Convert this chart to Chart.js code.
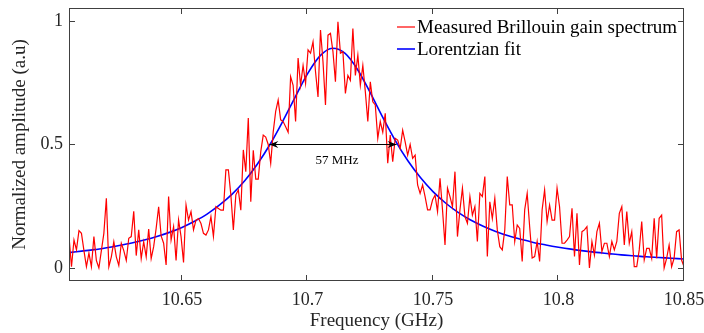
<!DOCTYPE html>
<html lang="en">
<head>
    <meta charset="UTF-8">
    <title>Brillouin gain spectrum</title>
    <style>
        html, body {
            margin: 0;
            padding: 0;
            background: #fff;
        }
        #wrap {
            width: 704px;
            height: 333px;
        }
    </style>
</head>
<body>
    <div id="wrap"><canvas id="myChart" width="704" height="333"></canvas></div>

    <script src="https://cdn.jsdelivr.net/npm/chart.js"></script>
    <script>
        // sampling grid of the measured spectrum (GHz)
        const freqStart = 10.605;
        const freqStep = 0.000992;

        // measured Brillouin gain spectrum
        const measured = [
            0.127, 0.005, 0.113, 0.073, 0.151, 0.14, 0.07, 0.005, 0.06, 0.005, 0.127, 0.03,
            0.0, 0.07, 0.14, 0.282, 0.005, 0.045, 0.106, 0.045, 0.01, 0.1, 0.07, 0.03,
            0.12, 0.127, 0.229, 0.05, 0.154, 0.038, 0.106, 0.045, 0.157, 0.038, 0.086, 0.16,
            0.248, 0.13, 0.1, 0.012, 0.289, 0.113, 0.167, 0.03, 0.194, 0.127, 0.022, 0.255,
            0.194, 0.228, 0.154, 0.194, 0.2, 0.18, 0.14, 0.133, 0.154, 0.208, 0.127, 0.248,
            0.241, 0.234, 0.234, 0.397, 0.397, 0.296, 0.154, 0.296, 0.316, 0.234, 0.478, 0.39,
            0.607, 0.268, 0.477, 0.36, 0.36, 0.47, 0.538, 0.53, 0.5, 0.424, 0.55, 0.634,
            0.68, 0.6, 0.593, 0.572, 0.55, 0.775, 0.74, 0.593, 0.85, 0.74, 0.82, 0.748,
            0.883, 0.87, 0.916, 0.795, 0.693, 0.964, 0.835, 0.66, 0.943,
            0.95, 0.876, 0.754, 0.997, 0.87, 0.876, 0.707, 0.78, 0.76, 0.97, 0.78, 0.862,
            0.74, 0.82, 0.714, 0.593, 0.754, 0.673, 0.66, 0.525, 0.593, 0.55, 0.626, 0.424,
            0.538, 0.43, 0.525, 0.518, 0.484, 0.558, 0.511, 0.457, 0.5, 0.444,
            0.457, 0.336, 0.302, 0.336, 0.289, 0.235, 0.235, 0.275, 0.295, 0.228, 0.363, 0.235,
            0.093, 0.323, 0.289, 0.248, 0.39, 0.127, 0.235, 0.323, 0.208, 0.181, 0.289, 0.214,
            0.248, 0.107, 0.302, 0.289, 0.37, 0.046, 0.268, 0.2, 0.282, 0.154, 0.086,
            0.073, 0.154, 0.37, 0.255, 0.255, 0.107, 0.174, 0.16, 0.026, 0.235, 0.302, 0.167,
            0.04, 0.046, 0.107, 0.026, 0.235, 0.316, 0.188, 0.255, 0.194, 0.194, 0.323, 0.248,
            0.1, 0.1, 0.113, 0.127, 0.242, 0.046, 0.221, 0.012, 0.147, 0.154, 0.167, 0.0, 0.107,
            0.052, 0.147, 0.181, 0.066, 0.1, 0.1, 0.046, 0.107, 0.073, 0.107, 0.221, 0.248,
            0.093, 0.228, 0.1, 0.147, 0.005, 0.005, 0.073, 0.188, 0.032, 0.079, 0.079, 0.039,
            0.201, 0.039, 0.201, 0.214, 0.0, 0.039, 0.093, 0.005, 0.039, 0.147, 0.154, 0.032, 0.005
        ];

        // Lorentzian fit, read every 5 MHz
        const fitFreqs = [
            10.605, 10.61, 10.615, 10.62, 10.625, 10.63, 10.635, 10.64, 10.645, 10.65,
            10.655, 10.66, 10.665, 10.67, 10.675, 10.68, 10.685, 10.69, 10.695, 10.7,
            10.705, 10.71, 10.715, 10.72, 10.725, 10.73, 10.735, 10.74, 10.745, 10.75,
            10.755, 10.76, 10.765, 10.77, 10.775, 10.78, 10.785, 10.79, 10.795, 10.8,
            10.805, 10.81, 10.815, 10.82, 10.825, 10.83, 10.835, 10.84, 10.845, 10.85
        ];
        const fitValues = [
            0.062, 0.068, 0.074, 0.082, 0.091, 0.101, 0.113, 0.127, 0.144, 0.164,
            0.189, 0.218, 0.255, 0.299, 0.353, 0.42, 0.499, 0.591, 0.69, 0.786,
            0.859, 0.89, 0.869, 0.803, 0.71, 0.61, 0.516, 0.434, 0.366, 0.309,
            0.263, 0.225, 0.194, 0.169, 0.148, 0.13, 0.116, 0.103, 0.093, 0.084,
            0.076, 0.069, 0.063, 0.058, 0.053, 0.049, 0.045, 0.042, 0.039, 0.036
        ];

        const xTicks = [10.65, 10.7, 10.75, 10.8, 10.85];
        const yTicks = [0, 0.5, 1];

        // FWHM marker
        const fwhmStart = 10.6848;
        const fwhmEnd = 10.7355;
        const fwhmLevel = 0.5;
        const fwhmLabel = '57 MHz';

        const serif = '"Liberation Serif", "Times New Roman", serif';
        const axisColor = '#404040';

        const measuredPoints = measured.map((v, i) => ({ x: freqStart + i * freqStep, y: v }));
        const fitPoints = fitFreqs.map((f, i) => ({ x: f, y: fitValues[i] }));

        // no extra room for overhanging tick labels, the layout padding decides
        function noScalePadding(s) {
            s.paddingTop = 0;
            s.paddingBottom = 0;
            s.paddingLeft = 0;
            s.paddingRight = 0;
        }

        const framePlugin = {
            id: 'frame',
            afterDraw(chart) {
                const { ctx, chartArea: a, scales: { x, y } } = chart;
                ctx.save();

                // box
                ctx.strokeStyle = axisColor;
                ctx.lineWidth = 1;
                ctx.strokeRect(a.left + 0.5, a.top + 0.5, a.right - a.left - 1, a.bottom - a.top - 1);

                // inward ticks on all four sides
                const len = 6;
                ctx.beginPath();
                xTicks.forEach(v => {
                    const px = Math.round(x.getPixelForValue(v)) - 0.5;
                    ctx.moveTo(px, a.bottom); ctx.lineTo(px, a.bottom - len);
                    ctx.moveTo(px, a.top); ctx.lineTo(px, a.top + len);
                });
                yTicks.forEach(v => {
                    const py = Math.round(y.getPixelForValue(v)) + 0.5;
                    ctx.moveTo(a.left, py); ctx.lineTo(a.left + len, py);
                    ctx.moveTo(a.right, py); ctx.lineTo(a.right - len, py);
                });
                ctx.stroke();

                // double arrow for the linewidth
                const x1 = x.getPixelForValue(fwhmStart);
                const x2 = x.getPixelForValue(fwhmEnd);
                const ya = Math.round(y.getPixelForValue(fwhmLevel)) + 0.5;
                ctx.strokeStyle = '#000';
                ctx.fillStyle = '#000';
                ctx.beginPath();
                ctx.moveTo(x1, ya);
                ctx.lineTo(x2, ya);
                ctx.stroke();
                [[x1, 1], [x2, -1]].forEach(([px, d]) => {
                    ctx.beginPath();
                    ctx.moveTo(px, ya);
                    ctx.lineTo(px + d * 9, ya - 3.5);
                    ctx.lineTo(px + d * 6, ya);
                    ctx.lineTo(px + d * 9, ya + 3.5);
                    ctx.closePath();
                    ctx.fill();
                });
                ctx.font = '13px ' + serif;
                ctx.fillStyle = '#000';
                ctx.textAlign = 'center';
                ctx.textBaseline = 'middle';
                ctx.fillText(fwhmLabel, (x1 + x2) / 2 + 4, ya + 16);

                // legend in the top right corner
                ctx.font = '19px ' + serif;
                ctx.textAlign = 'left';
                const lx = a.right - 287;
                chart.data.datasets.forEach((ds, i) => {
                    const ly = a.top + 19 + i * 22;
                    ctx.strokeStyle = ds.borderColor;
                    ctx.lineWidth = ds.borderWidth;
                    ctx.beginPath();
                    ctx.moveTo(lx, ly);
                    ctx.lineTo(lx + 18, ly);
                    ctx.stroke();
                    ctx.fillStyle = '#000';
                    ctx.fillText(ds.label, lx + 20, ly + 1);
                });

                ctx.restore();
            }
        };

        const ctx = document.getElementById('myChart').getContext('2d');
        new Chart(ctx, {
            type: 'line',
            data: {
                datasets: [{
                    label: 'Measured Brillouin gain spectrum',
                    data: measuredPoints,
                    borderColor: '#ff0000',
                    borderWidth: 1.2,
                    pointRadius: 0,
                    tension: 0
                }, {
                    label: 'Lorentzian fit',
                    data: fitPoints,
                    borderColor: '#0000ff',
                    borderWidth: 1.6,
                    pointRadius: 0,
                    cubicInterpolationMode: 'monotone'
                }]
            },
            options: {
                responsive: false,
                animation: false,
                devicePixelRatio: 1,
                layout: { padding: { top: 8, right: 20, left: 0, bottom: 0 } },
                plugins: {
                    legend: { display: false },
                    tooltip: { enabled: false }
                },
                scales: {
                    x: {
                        type: 'linear',
                        min: 10.605,
                        max: 10.85,
                        afterBuildTicks: s => { s.ticks = xTicks.map(v => ({ value: v })); },
                        afterFit: s => { s.height = 52; noScalePadding(s); },
                        grid: { display: false, drawTicks: false },
                        border: { display: false },
                        ticks: {
                            padding: 8,
                            maxRotation: 0,
                            color: '#262626',
                            font: { family: serif, size: 18 },
                            callback: v => String(v)
                        },
                        title: {
                            display: true,
                            text: 'Frequency (GHz)',
                            color: '#262626',
                            font: { family: serif, size: 19 },
                            padding: { top: 0, bottom: 1 }
                        }
                    },
                    y: {
                        min: -0.053,
                        max: 1.053,
                        afterBuildTicks: s => { s.ticks = yTicks.map(v => ({ value: v })); },
                        afterFit: s => { s.width = 69; noScalePadding(s); },
                        grid: { display: false, drawTicks: false },
                        border: { display: false },
                        ticks: {
                            padding: 6,
                            color: '#262626',
                            font: { family: serif, size: 18 },
                            callback: v => String(v)
                        },
                        title: {
                            display: true,
                            text: 'Normalized amplitude (a.u)',
                            color: '#262626',
                            font: { family: serif, size: 19 },
                            padding: { top: 9, bottom: 0 }
                        }
                    }
                }
            },
            plugins: [framePlugin]
        });
    </script>
</body>
</html>
